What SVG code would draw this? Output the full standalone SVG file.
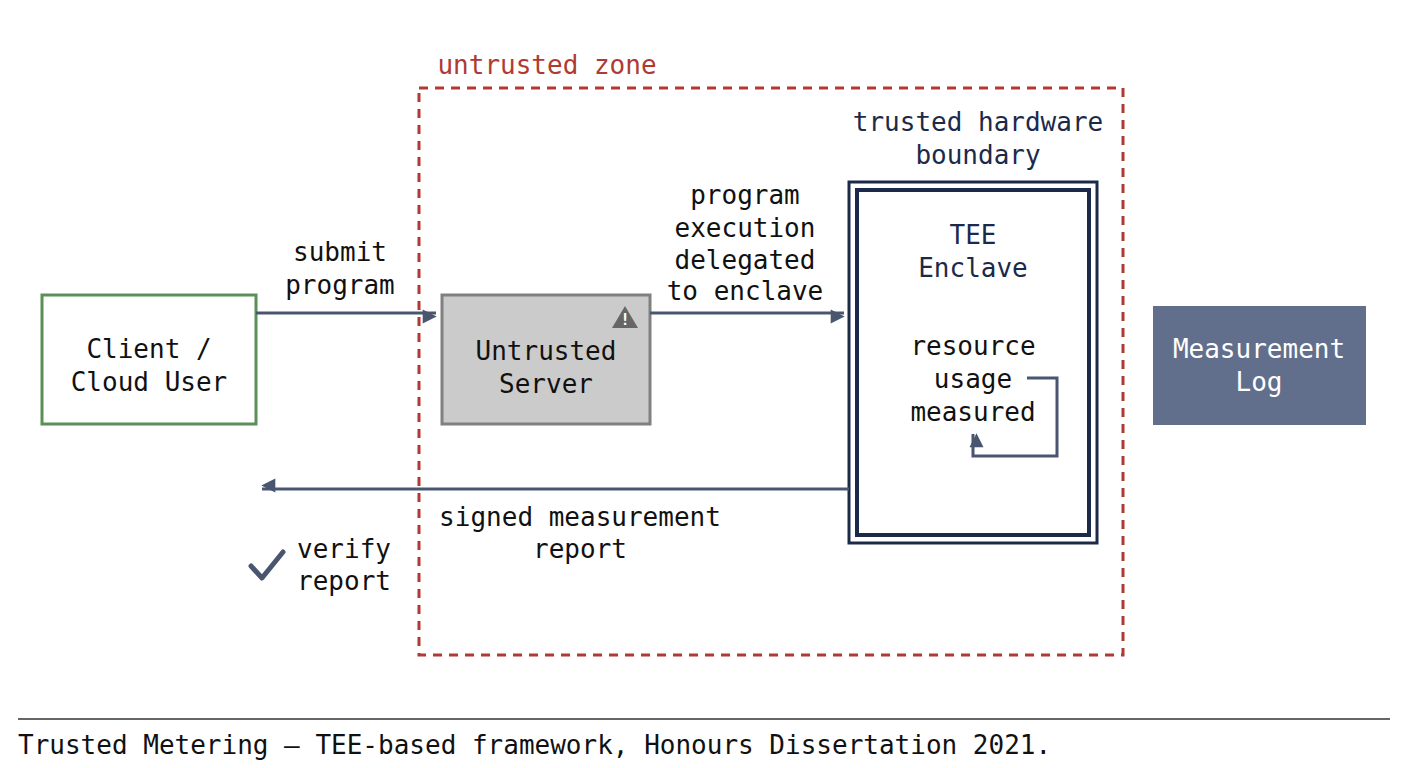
<svg xmlns="http://www.w3.org/2000/svg" width="1408" height="768" viewBox="0 0 1408 768">
<defs>
<style>
text{font-family:"DejaVu Sans Mono","Liberation Mono",monospace;font-size:26px;fill:#111;text-anchor:middle}
.c{stroke:#4a5670;stroke-width:3;fill:none}
.navy{fill:#1c2a4a}
</style>
<marker id="a" viewBox="0 0 10 10" refX="9" refY="5" markerWidth="7" markerHeight="7" orient="auto" markerUnits="userSpaceOnUse" style="overflow:visible"><path d="M0,0L10,5L0,10z" fill="#4a5670" transform="scale(2)translate(-5,0)"/></marker>
</defs>
<rect width="1408" height="768" fill="#fff"/>
<g id="untrusted-zone">
<rect x="419" y="88" width="704" height="567" fill="none" stroke="#b03a32" stroke-width="3" stroke-dasharray="9,7"/>
<text x="547" y="74" style="fill:#b03a32">untrusted zone</text>
</g>
<g id="client">
<rect x="42" y="295" width="214" height="129" fill="#fff" stroke="#5a8f55" stroke-width="3"/>
<text x="149" y="358">Client /</text><text x="149" y="391">Cloud User</text>
</g>
<g id="server">
<rect x="442" y="295" width="208" height="129" fill="#cbcbcb" stroke="#808080" stroke-width="3"/>
<path d="M625,306L638,328H612z" fill="#666"/>
<text x="625" y="325" style="font-size:16px;fill:#fff;font-weight:bold">!</text>
<text x="546" y="360">Untrusted</text><text x="546" y="393">Server</text>
</g>
<g id="tee">
<text x="978" y="131" class="navy">trusted hardware</text><text x="978" y="164" class="navy">boundary</text>
<rect x="849" y="182" width="248" height="361" fill="#fff" stroke="#1c2a4a" stroke-width="3"/>
<rect x="857" y="190" width="232" height="345" fill="none" stroke="#1c2a4a" stroke-width="4"/>
<text x="973" y="244" class="navy">TEE</text><text x="973" y="277" class="navy">Enclave</text>
<text x="973" y="355">resource</text><text x="973" y="388">usage</text><text x="973" y="421">measured</text>
</g>
<g id="log">
<rect x="1153" y="306" width="213" height="119" fill="#626f8c"/>
<text x="1259" y="358" style="fill:#fff">Measurement</text><text x="1259" y="391" style="fill:#fff">Log</text>
</g>
<g id="connectors">
<path class="c" d="M256,313H436" marker-end="url(#a)"/>
<path class="c" d="M650,313H844" marker-end="url(#a)"/>
<path class="c" d="M849,489H262" marker-end="url(#a)"/>
<path class="c" d="M1027,378H1057V456H973V434" marker-end="url(#a)"/>
<path d="M251,566L262,578L283,552" stroke="#4a5670" stroke-width="5" fill="none" stroke-linecap="round" stroke-linejoin="round"/>
</g>
<g id="labels">
<text x="340" y="261">submit</text><text x="340" y="294">program</text>
<text x="745" y="204">program</text><text x="745" y="237">execution</text><text x="745" y="269">delegated</text><text x="745" y="300">to enclave</text>
<text x="580" y="526">signed measurement</text><text x="580" y="558">report</text>
<text x="344" y="558">verify</text><text x="344" y="590">report</text>
</g>
<line x1="18" y1="719" x2="1390" y2="719" stroke="#333" stroke-width="1.5"/>
<text x="18" y="754" style="text-anchor:start">Trusted Metering — TEE-based framework, Honours Dissertation 2021.</text>
</svg>
